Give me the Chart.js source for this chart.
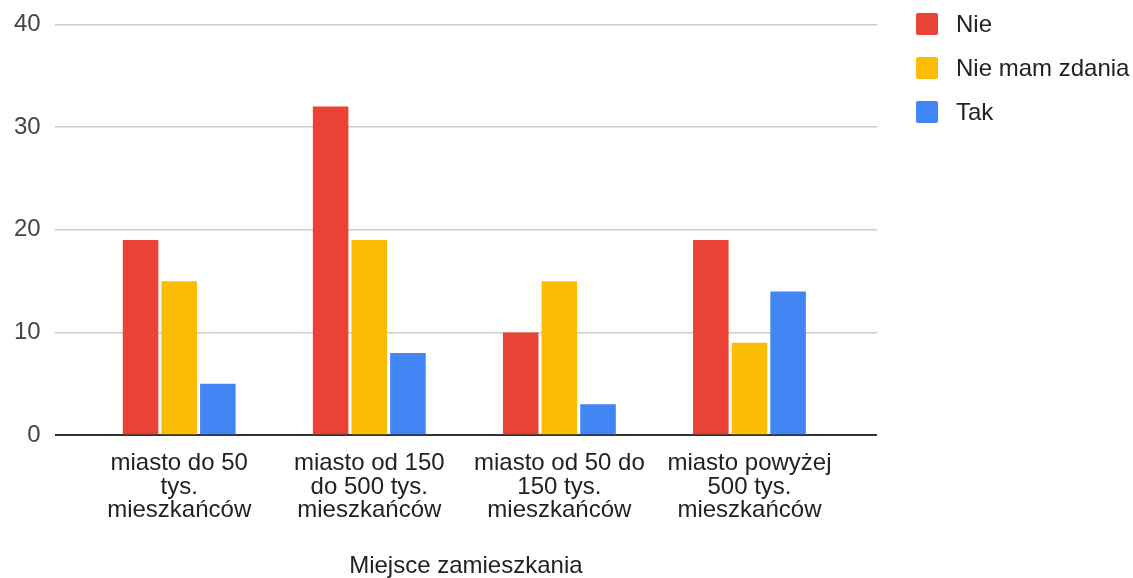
<!DOCTYPE html>
<html>
<head>
<meta charset="utf-8">
<script src="https://cdn.jsdelivr.net/npm/chart.js@4"></script>
<style>
html,body{margin:0;padding:0;background:#fff;}
#wrap{width:1133px;height:578px;position:relative;}
</style>
</head>
<body>
<div id="wrap"><canvas id="c" width="1133" height="578"></canvas></div>
<script>
const categories = [
  ["miasto do 50", "tys.", "mieszkańców"],
  ["miasto od 150", "do 500 tys.", "mieszkańców"],
  ["miasto od 50 do", "150 tys.", "mieszkańców"],
  ["miasto powyżej", "500 tys.", "mieszkańców"]
];
const seriesNames = ["Nie", "Nie mam zdania", "Tak"];
const nie = [19, 32, 10, 19];
const nieMamZdania = [15, 19, 15, 9];
const tak = [5, 8, 3, 14];
const yTicks = [0, 10, 20, 30, 40];
const xTitle = "Miejsce zamieszkania";

const colors = ["#ea4335", "#fbbc04", "#4285f4"];
const FONT = "'Liberation Sans', Arial, sans-serif";
const toPts = arr => arr.map((v, i) => ({x: i, y: v}));

const sideLegend = {
  id: 'sideLegend',
  afterDraw(chart) {
    const ctx = chart.ctx;
    ctx.save();
    ctx.font = "24px " + FONT;
    ctx.textBaseline = 'middle';
    ctx.textAlign = 'left';
    chart.data.datasets.forEach((ds, i) => {
      const yc = 24 + i * 44;
      ctx.fillStyle = ds.backgroundColor;
      ctx.beginPath();
      ctx.roundRect(916, yc - 11, 22, 22, 2);
      ctx.fill();
      ctx.fillStyle = '#222';
      ctx.fillText(ds.label, 956, yc + 1);
    });
    ctx.restore();
  }
};

new Chart(document.getElementById('c'), {
  type: 'bar',
  data: {
    datasets: [
      {label: seriesNames[0], data: toPts(nie), backgroundColor: colors[0]},
      {label: seriesNames[1], data: toPts(nieMamZdania), backgroundColor: colors[1]},
      {label: seriesNames[2], data: toPts(tak), backgroundColor: colors[2]}
    ]
  },
  plugins: [sideLegend],
  options: {
    responsive: false,
    animation: false,
    devicePixelRatio: 1,
    categoryPercentage: 0.61,
    barPercentage: 0.92,
    layout: {padding: {top: 4, left: 0, right: 256, bottom: 0}},
    plugins: {
      tooltip: {enabled: false},
      legend: {display: false}
    },
    scales: {
      x: {
        type: 'linear',
        offset: false,
        min: -0.655,
        max: 3.671,
        afterBuildTicks: s => { s.ticks = categories.map((c, i) => ({value: i})); },
        ticks: {
          autoSkip: false,
          maxRotation: 0,
          padding: 17,
          color: '#222',
          font: {family: FONT, size: 24, lineHeight: 0.97},
          callback: v => categories[v] || ''
        },
        grid: {display: false, drawTicks: false},
        border: {display: false},
        title: {
          display: true,
          text: xTitle,
          color: '#222',
          font: {family: FONT, size: 24, lineHeight: 1.0},
          padding: {top: 15, bottom: 0}
        }
      },
      y: {
        min: 0,
        max: 40,
        afterBuildTicks: s => { s.ticks = yTicks.map(v => ({value: v})); },
        ticks: {
          padding: 14,
          color: '#444',
          font: {family: FONT, size: 24, lineHeight: 0.87}
        },
        grid: {
          drawTicks: false,
          lineWidth: ctx => ctx.tick && ctx.tick.value === 0 ? 2 : 1.5,
          color: ctx => ctx.tick && ctx.tick.value === 0 ? '#333' : '#ccc'
        },
        border: {display: false}
      }
    }
  }
});
</script>
</body>
</html>
